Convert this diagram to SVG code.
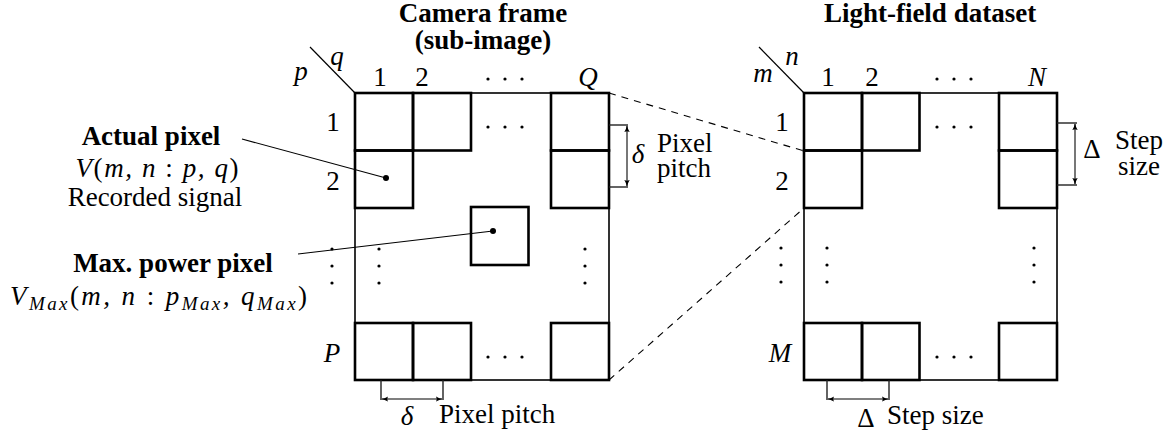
<svg xmlns="http://www.w3.org/2000/svg" width="1173" height="436" viewBox="0 0 1173 436" font-family="Liberation Serif">
<style>
text{font-family:'Liberation Serif', serif;font-size:27px;fill:#000}
.b{font-weight:bold}
.i{font-style:italic}
.n{font-style:normal}
.cell{fill:none;stroke:#000;stroke-width:2.6}
.outer{fill:none;stroke:#000;stroke-width:1.6}
.lead{stroke:#000;stroke-width:1.2;fill:none}
.dash{stroke:#000;stroke-width:1.1;stroke-dasharray:7,6;fill:none}
.tick{stroke:#222;stroke-width:1.4;fill:none}
.dim{stroke:#555;stroke-width:1.6;fill:none}
.dot{fill:#000}
</style>
<defs>
<marker id="ah" viewBox="0 0 10 10" refX="9" refY="5" markerWidth="7" markerHeight="7" orient="auto-start-reverse" markerUnits="userSpaceOnUse">
<path d="M0,1 Q5,4 10,5 Q5,6 0,9 Q3,5 0,1 Z" fill="#000"/>
</marker>
<g id="dotsH"><circle cx="0" cy="0" r="1.6"/><circle cx="17" cy="0" r="1.6"/><circle cx="34" cy="0" r="1.6"/></g>
<g id="dotsV"><circle cx="0" cy="0" r="1.6"/><circle cx="0" cy="17" r="1.6"/><circle cx="0" cy="34" r="1.6"/></g>
</defs>

<g id="camera-frame">
<text class="b" x="483" y="22" text-anchor="middle">Camera frame</text>
<text class="b" x="483" y="49" text-anchor="middle">(sub-image)</text>
<line class="lead" x1="310" y1="47" x2="355" y2="93"/>
<text class="i" x="301" y="80" text-anchor="middle">p</text>
<text class="i" x="337" y="65" text-anchor="middle">q</text>
<text x="380" y="86" text-anchor="middle">1</text>
<text x="422" y="86" text-anchor="middle">2</text>
<use href="#dotsH" x="488" y="79"/>
<text class="i" x="588" y="86" text-anchor="middle">Q</text>
<text x="333" y="131" text-anchor="middle">1</text>
<text x="333" y="190" text-anchor="middle">2</text>
<text class="i" x="332" y="362" text-anchor="middle">P</text>
<use href="#dotsV" x="332" y="249"/>
<rect class="outer" x="355" y="93" width="254" height="287"/>
<rect class="cell" x="355" y="93" width="58" height="57.5"/>
<rect class="cell" x="413" y="93" width="58" height="57.5"/>
<rect class="cell" x="551" y="93" width="58" height="57.5"/>
<rect class="cell" x="355" y="150.5" width="58" height="57.5"/>
<rect class="cell" x="551" y="150.5" width="58" height="57.5"/>
<rect class="cell" x="355" y="323" width="58" height="57"/>
<rect class="cell" x="413" y="323" width="58" height="57"/>
<rect class="cell" x="551" y="323" width="58" height="57"/>
<rect class="cell" x="471" y="207" width="57.5" height="58"/>
<use href="#dotsH" x="488" y="127"/>
<use href="#dotsH" x="488" y="357"/>
<use href="#dotsV" x="379" y="249"/>
<use href="#dotsV" x="585" y="249"/>
<circle class="dot" cx="386" cy="178" r="3"/>
<circle class="dot" cx="493" cy="231" r="3"/>
</g>

<g id="light-field">
<text class="b" x="930" y="22" text-anchor="middle">Light-field dataset</text>
<line class="lead" x1="759" y1="47" x2="804" y2="93"/>
<text class="i" x="763" y="82" text-anchor="middle">m</text>
<text class="i" x="792" y="65" text-anchor="middle">n</text>
<text x="828" y="86" text-anchor="middle">1</text>
<text x="872" y="86" text-anchor="middle">2</text>
<use href="#dotsH" x="937" y="79"/>
<text class="i" x="1037" y="86" text-anchor="middle">N</text>
<text x="782" y="131" text-anchor="middle">1</text>
<text x="782" y="190" text-anchor="middle">2</text>
<text class="i" x="780" y="362" text-anchor="middle">M</text>
<use href="#dotsV" x="781" y="248"/>
<rect class="outer" x="804" y="93" width="253" height="287"/>
<rect class="cell" x="804" y="93" width="58" height="57.5"/>
<rect class="cell" x="862" y="93" width="57.5" height="57.5"/>
<rect class="cell" x="999" y="93" width="58" height="57.5"/>
<rect class="cell" x="804" y="150.5" width="58" height="57.5"/>
<rect class="cell" x="999" y="150.5" width="58" height="57.5"/>
<rect class="cell" x="804" y="323" width="58" height="57"/>
<rect class="cell" x="862" y="323" width="57.5" height="57"/>
<rect class="cell" x="999" y="323" width="58" height="57"/>
<use href="#dotsH" x="937" y="127"/>
<use href="#dotsH" x="937" y="357"/>
<use href="#dotsV" x="827" y="248"/>
<use href="#dotsV" x="1034" y="248"/>
</g>

<g id="actual-pixel-label">
<text class="b" x="151" y="145" text-anchor="middle">Actual pixel</text>
<text class="i" x="157" y="177" text-anchor="middle" textLength="163" lengthAdjust="spacing">V<tspan class="n">(</tspan>m, n <tspan class="n">:</tspan> p, q<tspan class="n">)</tspan></text>
<text x="155" y="206" text-anchor="middle">Recorded signal</text>
</g>

<g id="max-power-label">
<text class="b" x="173" y="272" text-anchor="middle">Max. power pixel</text>
<text class="i" x="10" y="305" textLength="297" lengthAdjust="spacing">V<tspan font-size="19" dy="5">Max</tspan><tspan class="n" dy="-5">(</tspan>m, n <tspan class="n">:</tspan> p<tspan font-size="19" dy="5">Max</tspan><tspan dy="-5">, q</tspan><tspan font-size="19" dy="5">Max</tspan><tspan class="n" dy="-5">)</tspan></text>
</g>

<g id="dimensions">
<line class="tick" x1="609" y1="125" x2="628" y2="125"/>
<line class="tick" x1="609" y1="187" x2="628" y2="187"/>
<line class="dim" x1="627" y1="126" x2="627" y2="186" marker-start="url(#ah)" marker-end="url(#ah)"/>
<text class="i" x="638" y="163" text-anchor="middle">δ</text>
<text x="657" y="152">Pixel</text>
<text x="657" y="177">pitch</text>

<line class="tick" x1="381" y1="380" x2="381" y2="400"/>
<line class="tick" x1="443" y1="380" x2="443" y2="400"/>
<line class="dim" x1="382" y1="399" x2="442" y2="399" marker-start="url(#ah)" marker-end="url(#ah)"/>
<text class="i" x="407" y="425" text-anchor="middle">δ</text>
<text x="439" y="423">Pixel pitch</text>

<line class="tick" x1="1057" y1="123" x2="1077" y2="123"/>
<line class="tick" x1="1057" y1="185" x2="1077" y2="185"/>
<line class="dim" x1="1075" y1="124" x2="1075" y2="184" marker-start="url(#ah)" marker-end="url(#ah)"/>
<text x="1092" y="158" text-anchor="middle">Δ</text>
<text x="1139" y="149" text-anchor="middle">Step</text>
<text x="1139" y="175" text-anchor="middle">size</text>

<line class="tick" x1="827" y1="380" x2="827" y2="400"/>
<line class="tick" x1="889" y1="380" x2="889" y2="400"/>
<line class="dim" x1="828" y1="399" x2="888" y2="399" marker-start="url(#ah)" marker-end="url(#ah)"/>
<text x="866" y="427" text-anchor="middle">Δ</text>
<text x="887" y="424">Step size</text>
</g>

<g id="connectors">
<line class="lead" x1="242" y1="139" x2="386" y2="178"/>
<line class="lead" x1="298" y1="254" x2="493" y2="231"/>
<line class="dash" x1="609" y1="93" x2="804" y2="151"/>
<line class="dash" x1="609" y1="380" x2="804" y2="208"/>
</g>
</svg>
